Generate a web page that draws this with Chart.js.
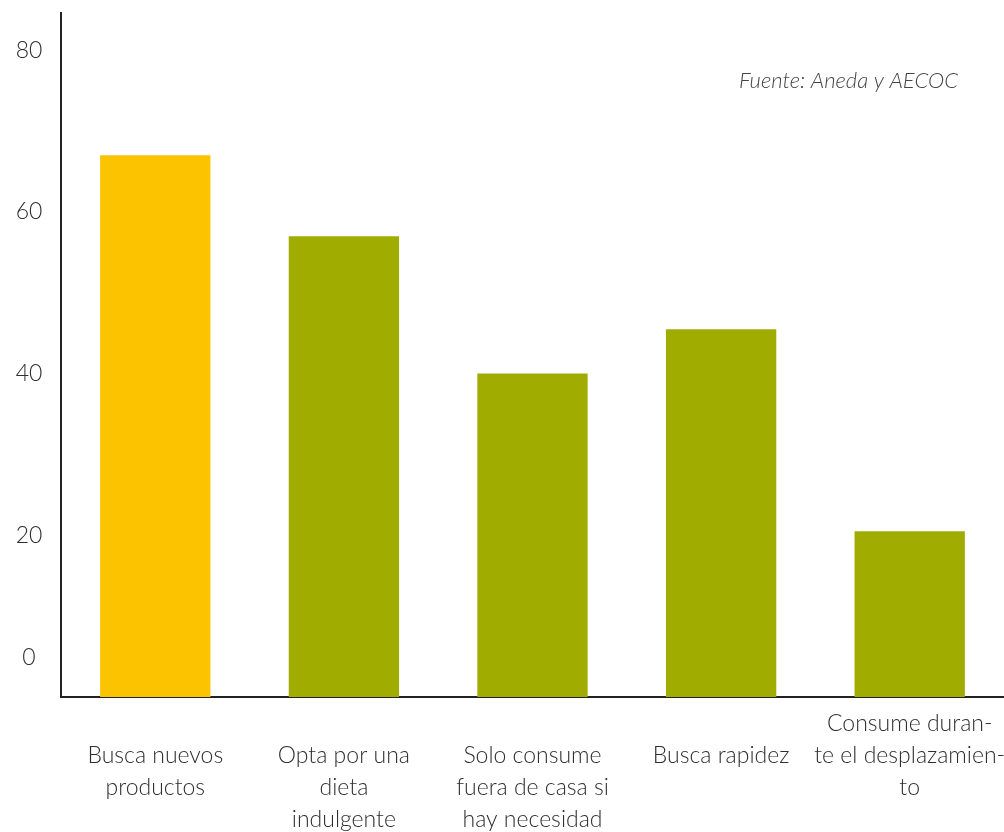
<!DOCTYPE html>
<html lang="es">
<head>
<meta charset="utf-8">
<title>Hábitos de consumo</title>
<script src="https://cdn.jsdelivr.net/npm/chart.js@4.4.1/dist/chart.umd.min.js"></script>
<style>
  html, body { margin: 0; padding: 0; background: #fff; }
  #wrap { position: relative; width: 1004px; height: 832px; }
</style>
</head>
<body>
<div id="wrap"><canvas id="consumoChart"></canvas></div>
<script>
// Labels are split by hand; the leading '' keeps them aligned under the 3-line last one
const categories = [
  ['', 'Busca nuevos', 'productos'],
  ['', 'Opta por una', 'dieta', 'indulgente'],
  ['', 'Solo consume', 'fuera de casa si', 'hay necesidad'],
  ['', 'Busca rapidez'],
  ['Consume duran-', 'te el desplazamien-', 'to']
];
const values = [67, 57, 40, 45.5, 20.5];
const barColors = ['#FCC400', '#A0AC00', '#A0AC00', '#A0AC00', '#A0AC00'];
const yTicks = [0, 20, 40, 60, 80];
const sourceText = 'Fuente: Aneda y AECOC';

const FONT = 'Lato, "Open Sans", sans-serif';
const TEXT = '#2e2e2e';

// y tick labels drawn by hand so the zero can sit above the baseline
const yLabels = {
  id: 'yLabels',
  afterDraw(chart) {
    const { ctx, scales: { y } } = chart;
    ctx.save();
    ctx.font = '300 23px ' + FONT;
    ctx.fillStyle = TEXT;
    ctx.textAlign = 'center';
    ctx.textBaseline = 'middle';
    yTicks.forEach(v => {
      const py = y.getPixelForValue(v) - (v === 0 ? 39 : 0);
      ctx.fillText(String(v), y.left + 29, py);
    });
    ctx.restore();
  }
};

const sourceNote = {
  id: 'sourceNote',
  afterDraw(chart) {
    const { ctx, chartArea } = chart;
    ctx.save();
    ctx.font = 'italic 300 22px ' + FONT;
    ctx.fillStyle = '#444';
    ctx.textAlign = 'right';
    ctx.textBaseline = 'middle';
    ctx.fillText(sourceText, chartArea.right - 46, chartArea.top + 68);
    ctx.restore();
  }
};

new Chart(document.getElementById('consumoChart'), {
  type: 'bar',
  data: {
    labels: categories,
    datasets: [{
      data: values,
      backgroundColor: barColors,
      borderWidth: 0,
      categoryPercentage: 1,
      barPercentage: 0.585
    }]
  },
  options: {
    responsive: true,
    maintainAspectRatio: false,
    animation: false,
    layout: { padding: { top: 13, right: 0, left: 0, bottom: 0 } },
    plugins: {
      legend: { display: false },
      tooltip: { enabled: false }
    },
    scales: {
      x: {
        grid: { display: false },
        border: { display: true, color: '#222', width: 2 },
        ticks: {
          color: TEXT,
          font: { family: FONT, size: 23, weight: '300', lineHeight: 1.4 },
          padding: 2,
          maxRotation: 0,
          autoSkip: false
        },
        afterFit: s => { s.height = 135; s.paddingLeft = 0; s.paddingRight = 0; }
      },
      y: {
        min: 0,
        max: 84.6,
        grid: { display: false },
        border: { display: true, color: '#222', width: 2 },
        ticks: { display: false },
        afterFit: s => { s.width = 61; }
      }
    }
  },
  plugins: [yLabels, sourceNote]
});
</script>
</body>
</html>
